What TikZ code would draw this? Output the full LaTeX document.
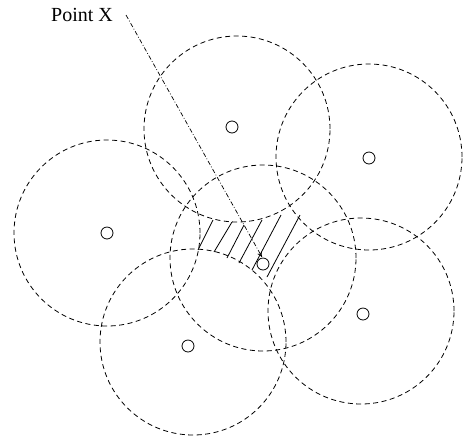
\documentclass[tikz,border=0pt]{standalone}
\usepackage{fontspec}
\setmainfont{Liberation Serif}
\usetikzlibrary{arrows.meta}
\begin{document}
\begin{tikzpicture}[x=1pt,y=-1pt,
  coverzone/.style={circle,draw,dash pattern=on 5pt off 3.5pt,line width=0.8pt,minimum size=186pt,inner sep=0pt},
  sitedot/.style={circle,draw,line width=0.8pt,minimum size=12pt,inner sep=0pt},
  hatchline/.style={line width=0.8pt},
  pointer/.style={line width=0.7pt,dash pattern=on 4.5pt off 2pt on 0.8pt off 2pt,-{To[length=5pt,width=5pt]}}]
\useasboundingbox (0,0) rectangle (465,437);
% hatch lines
\draw[hatchline] (198,250) -- (213,220);
\draw[hatchline] (214,252) -- (232,222);
\draw[hatchline] (227,258) -- (244,225);
\draw[hatchline] (239,263) -- (262,220);
\draw[hatchline] (252,270) -- (281,215);
\draw[hatchline] (267,277) -- (300,215);
% range circles
\node[coverzone] (r1) at (107,233) {};
\node[coverzone] (r2) at (237,129) {};
\node[coverzone] (r3) at (369,157) {};
\node[coverzone] (r4) at (263,258) {};
\node[coverzone] (r5) at (193,342) {};
\node[coverzone] (r6) at (361,311) {};
% sites
\node[sitedot] (s1) at (107,233) {};
\node[sitedot] (s2) at (232,127) {};
\node[sitedot] (s3) at (369,158) {};
\node[sitedot] (s4) at (263,264) {};
\node[sitedot] (s5) at (188,346) {};
\node[sitedot] (s6) at (363,314) {};
% label and pointer
\node[anchor=base west,inner sep=0pt,font=\fontsize{20pt}{24pt}\selectfont] (lbl) at (51,21) {Point X};
\coordinate (xs) at (126,15);
\coordinate (xe) at (262,257);
\draw[pointer] (xs) -- (xe);
\end{tikzpicture}
\end{document}
